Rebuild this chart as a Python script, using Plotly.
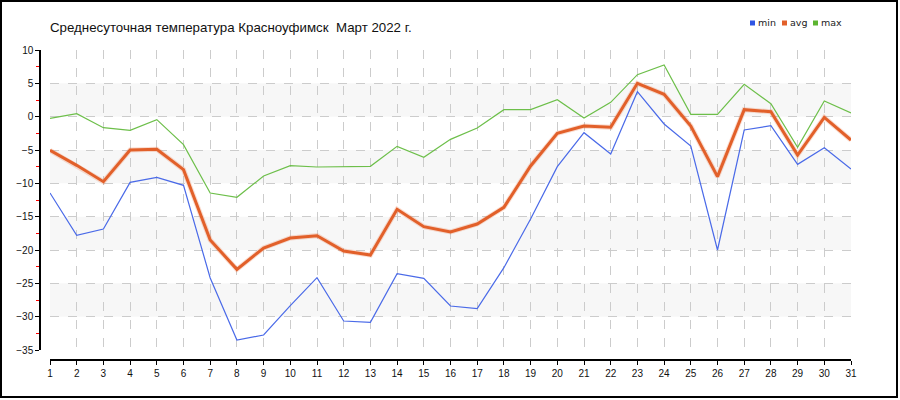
import plotly.graph_objects as go

days = list(range(1, 32))
t_min = [-11.45, -17.8, -16.85, -9.85, -9.1, -10.3, -24.2, -33.5, -32.75, -28.35,
         -24.15, -30.65, -30.85, -23.55, -24.25, -28.4, -28.8, -22.65, -15.35, -7.5,
         -2.4, -5.6, 3.75, -1.1, -4.4, -20.0, -2.0, -1.35, -7.15, -4.65, -7.85]
t_avg = [-5.05, -7.3, -9.75, -5.0, -4.9, -7.95, -18.5, -22.9, -19.7, -18.2,
         -17.85, -20.15, -20.75, -13.9, -16.5, -17.3, -16.1, -13.6, -7.4, -2.5,
         -1.4, -1.6, 5.0, 3.35, -1.4, -9.0, 1.05, 0.75, -5.75, -0.1, -3.5]
t_max = [-0.25, 0.45, -1.65, -2.05, -0.45, -4.2, -11.45, -12.1, -8.9, -7.35,
         -7.55, -7.45, -7.45, -4.45, -6.1, -3.4, -1.7, 1.05, 1.05, 2.55,
         -0.2, 2.15, 6.3, 7.75, 0.35, 0.35, 4.85, 1.95, -4.6, 2.35, 0.55]
series_names = ["min", "avg", "max"]
swatch_colors = ["#2f55e4", "#e2602a", "#5cb531"]
title_text = "Среднесуточная температура Красноуфимск  Март 2022 г."
y_ticks = [10, 5, 0, -5, -10, -15, -20, -25, -30, -35]
bands = [(0, 5), (-10, -5), (-20, -15), (-30, -25)]

# paper geometry helpers (plot paper spans px 40..851 horizontally, 50..360 vertically)
PX0, PW = 40, 811
PY0, PH = 360, 310


def px(x):
    return (x - PX0) / PW


def py(y):
    return (PY0 - y) / PH


fig = go.Figure()

fig.add_trace(go.Scatter(x=days, y=t_min, mode="lines", name="min",
                         line=dict(color="#4a6ae8", width=1.2)))
fig.add_trace(go.Scatter(x=days, y=t_max, mode="lines", name="max",
                         line=dict(color="#6dbf4a", width=1.2)))
fig.add_trace(go.Scatter(x=days, y=t_avg, mode="lines", name="avg shadow",
                         line=dict(color="rgba(235,120,70,0.25)", width=5),
                         hoverinfo="skip"))
fig.add_trace(go.Scatter(x=days, y=t_avg, mode="lines", name="avg",
                         line=dict(color="#e2602a", width=3)))

shapes = []
for lo, hi in bands:
    shapes.append(dict(type="rect", xref="x", yref="y", x0=1, x1=31, y0=lo, y1=hi,
                       fillcolor="#f7f7f7", line=dict(width=0), layer="below"))
# outer frame
shapes.append(dict(type="rect", xref="paper", yref="paper",
                   x0=px(1), x1=px(897), y0=py(397), y1=py(1),
                   line=dict(color="black", width=2), fillcolor="rgba(0,0,0,0)"))

# legend swatches + labels
annotations = []
leg_x = [750, 782, 813]
for n, c, lx in zip(series_names, swatch_colors, leg_x):
    shapes.append(dict(type="rect", xref="paper", yref="paper",
                       x0=px(lx), x1=px(lx + 5), y0=py(25.5), y1=py(20.5),
                       fillcolor=c, line=dict(width=0)))
    annotations.append(dict(xref="paper", yref="paper", x=px(lx + 6), y=py(22.5),
                            xanchor="left", yanchor="middle", showarrow=False, text=n,
                            font=dict(family="DejaVu Sans, sans-serif", size=9.5, color="#222")))

tick_font = dict(family="Liberation Sans, Arial, sans-serif", size=10, color="#111")

fig.update_layout(
    width=900, height=400,
    margin=dict(l=40, r=49, t=50, b=40, autoexpand=False),
    paper_bgcolor="white", plot_bgcolor="white",
    showlegend=False,
    title=dict(text=title_text, x=50 / 900, xanchor="left",
               y=1 - 27 / 400, yanchor="middle",
               font=dict(family="Liberation Sans, Arial, sans-serif", size=13.3, color="#111")),
    shapes=shapes,
    annotations=annotations,
    xaxis=dict(domain=[10 / 811, 1], range=[1, 31], anchor="free", position=0,
               tickmode="array", tickvals=days, ticktext=[str(d) for d in days],
               showline=True, linecolor="black", linewidth=1.5,
               ticks="outside", ticklen=4, tickcolor="black",
               showgrid=True, gridcolor="#cccccc", griddash="dash", gridwidth=1,
               zeroline=False, tickfont=tick_font),
    yaxis=dict(domain=[10 / 310, 1], range=[-35, 10], anchor="free", position=0,
               tickmode="array", tickvals=y_ticks,
               showline=True, linecolor="black", linewidth=1.5,
               ticks="outside", ticklen=4, tickcolor="black",
               minor=dict(dtick=2.5, ticks="outside", ticklen=3, tickcolor="red", showgrid=False),
               showgrid=True, gridcolor="#cccccc", griddash="dash", gridwidth=1,
               zeroline=False, tickfont=tick_font),
)

fig.write_html("out.html", config={"displayModeBar": False},
               post_script="document.body.style.margin='0';")
